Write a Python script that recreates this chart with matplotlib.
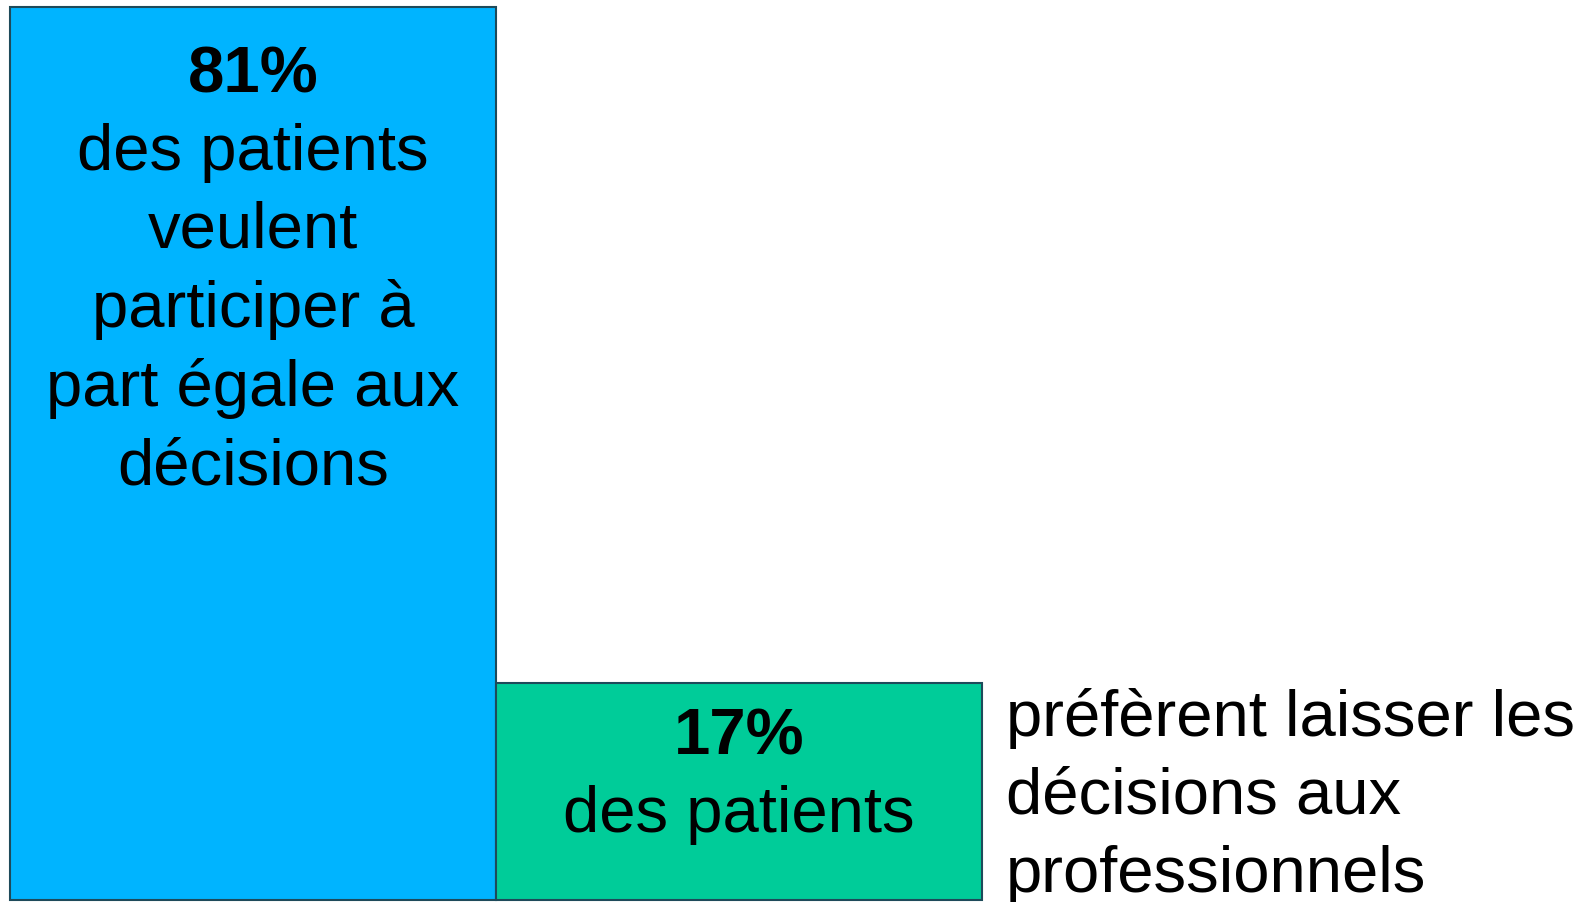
import matplotlib
matplotlib.use('Agg')
from matplotlib import pyplot as plt

plt.rcParams['font.family'] = ['Liberation Sans', 'DejaVu Sans']

shares = [81, 17]
pcts = ['81%', '17%']
inside = ['des patients\nveulent\nparticiper à\npart égale aux\ndécisions',
          'des patients']
side_note = 'préfèrent laisser les\ndécisions aux\nprofessionnels'
colors = ['#00B4FF', '#00CC99']

YMIN = -3.72
BASE = -3.54

fig = plt.figure(figsize=(15.85, 9.02), dpi=100)
ax = fig.add_axes([0, 0, 1, 1])
x = range(len(shares))
ax.bar(x, [s - BASE for s in shares], bottom=BASE, width=1.0,
       color=colors, edgecolor='#1E4A5A', linewidth=1.5)

# texte dans les barres
ax.text(0, 74.47, pcts[0], ha='center', va='center',
        fontsize=47, fontweight='bold')
ax.text(0, 52.31, inside[0], ha='center', va='center',
        fontsize=47, linespacing=1.38)
ax.text(1, 11.82, pcts[1], ha='center', va='center',
        fontsize=47, fontweight='bold')
ax.text(1, 4.56, inside[1], ha='center', va='center', fontsize=47)
ax.text(1.5 + 24 / 486, 6.30, side_note, ha='left', va='center',
        fontsize=47, linespacing=1.38)

ax.set_xlim(-0.5 - 10 / 486, -0.5 + 1575 / 486)
ax.set_ylim(YMIN, 81.66)
ax.axis('off')
fig.savefig('out.png', dpi=100, facecolor='white')
